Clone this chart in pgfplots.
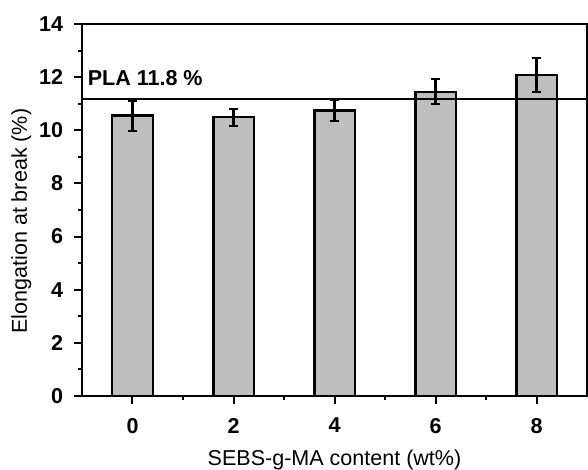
\documentclass[border=0pt]{standalone}
\usepackage{fontspec}
\setmainfont{Liberation Sans}
\usepackage{pgfplots}
\usepackage{pgfplotstable}
\pgfplotsset{compat=1.18}
\definecolor{barfill}{RGB}{190,190,190}
\pgfplotstableread{
x y e
0 10.55 0.57
2 10.49 0.32
4 10.74 0.39
6 11.45 0.47
8 12.07 0.64
}\datatable
\begin{document}
\begin{tikzpicture}
\begin{axis}[
 scale only axis, width=505bp, height=372bp,
 xmin=-1, xmax=9, ymin=0, ymax=14,
 xtick={0,2,4,6,8}, minor xtick={1,3,5,7},
 ytick={0,2,...,14}, minor ytick={1,3,...,13},
 tick align=outside, tick pos=left,
 major tick length=7.5bp, minor tick length=4bp,
 axis line style={line width=2bp},
 every tick/.style={line width=2bp, black},
 ticklabel style={font=\fontsize{21.6}{24}\selectfont\bfseries},
 yticklabel style={xshift=-8bp},
 xticklabel style={yshift=-11bp},
 /pgf/number format/assume math mode=true,
 xlabel={SEBS-g-MA content (wt\%)}, ylabel={Elongation at break (\%)},
 label style={font=\fontsize{21.6}{24}\selectfont},
 xlabel style={at={(axis description cs:0.5,-0.1855)}, anchor=base},
 ylabel style={at={(axis description cs:-0.109,0.47)}, anchor=base},
]
\addplot[ybar, bar width=0.8, fill=barfill, draw=black, line width=2.4bp,
  error bars/.cd, y dir=both, y explicit,
  error bar style={line width=2.2bp},
  error mark options={rotate=90, mark size=4.5bp, line width=2.2bp}]
  table[x=x, y=y, y error=e] {\datatable};
\addplot[line width=1.8bp, black] coordinates {(-1,11.18) (9,11.18)};
\node[anchor=base west, font=\fontsize{21.6}{24}\selectfont\bfseries, inner sep=0pt] at (axis cs:-0.89,11.67) {PLA 11.8 \%};
\end{axis}
\pgfresetboundingbox
\path[use as bounding box] ([shift={(-82bp,-74bp)}]current axis.south west) rectangle ([shift={(1bp,24bp)}]current axis.north east);
\end{tikzpicture}
\end{document}
